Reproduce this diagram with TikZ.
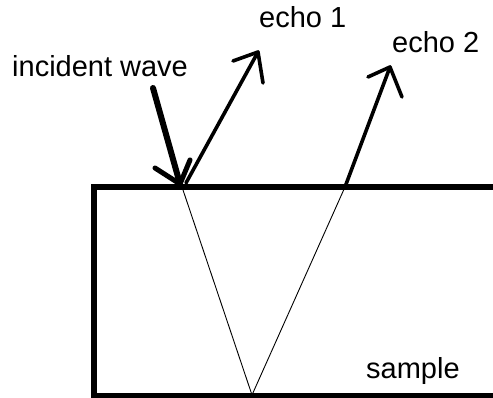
\documentclass[tikz,border=0pt]{standalone}
\usepackage{fontspec}
\setmainfont{Liberation Sans}
\begin{document}
\begin{tikzpicture}[x=1pt,y=-1pt,
  lbl/.style={anchor=base west,inner sep=0pt,font=\fontsize{29}{32}\selectfont},
  thickline/.style={line width=6pt,line cap=round},
  ray/.style={line width=3.6pt,line cap=round,line join=round},
  inner/.style={line width=0.9pt}]
\useasboundingbox (0,0) rectangle (493,398);
\clip (0,0) rectangle (493,398);
% sample block
\draw[line width=6pt] (520,187) -- (94,187) -- (94,396) -- (520,396);
% points
\coordinate (P1) at (182,187);
\coordinate (B) at (252,395);
\coordinate (P2) at (345,187);
\coordinate (I0) at (153,88);
\coordinate (I1) at (180,184);
\coordinate (IL) at (155,168);
\coordinate (IR) at (190,160);
\coordinate (E1) at (258,52);
\coordinate (E1L) at (233,61);
\coordinate (E1R) at (263,83);
\coordinate (E2) at (390,67);
\coordinate (E2L) at (368,77);
\coordinate (E2R) at (402,97);
% internal path
\draw[inner] (P1) -- (B) -- (P2);
% incident wave
\draw[thickline] (I0) -- (I1);
\draw[line width=5pt,line cap=round] (IL) -- (I1) -- (IR);
% echo 1
\draw[ray] (186,183) -- (E1);
\draw[ray] (E1L) -- (E1) -- (E1R);
% echo 2
\draw[ray] (P2) -- (E2);
\draw[ray] (E2L) -- (E2) -- (E2R);
% labels
\node[lbl] (tinc) at (12,77) {incident wave};
\node[lbl] (te1) at (259,28) {echo 1};
\node[lbl] (te2) at (392,53) {echo 2};
\node[lbl] (tsam) at (366,378) {sample};
\end{tikzpicture}
\end{document}
